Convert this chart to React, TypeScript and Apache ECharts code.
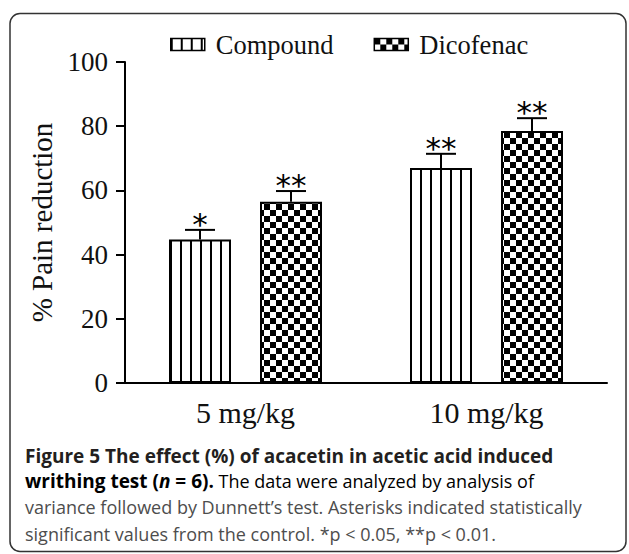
import React, { useEffect, useRef } from "react";
import * as echarts from "echarts";

// ---------- data ----------
const categories = ["5 mg/kg", "10 mg/kg"];
const seriesNames = ["Compound", "Dicofenac"];
const compoundValues = [44.7, 67.0];
const compoundErrors = [3.0, 4.4];
const compoundMarks = ["*", "**"];
const dicofenacValues = [56.5, 78.5];
const dicofenacErrors = [3.3, 4.0];
const dicofenacMarks = ["**", "**"];
const yTicks = [0, 20, 40, 60, 80, 100];
const yAxisTitle = "% Pain reduction";
const captionLine1 = "Figure 5 The effect (%) of acacetin in acetic acid induced";
const captionLine2Bold = "writhing test (";
const captionLine2Italic = "n";
const captionLine2Bold2 = " = 6).";
const captionLine2Rest = " The data were analyzed by analysis of";
const captionLine3 = "variance followed by Dunnett\u2019s test. Asterisks indicated statistically";
const captionLine4 = "significant values from the control. *p < 0.05, **p < 0.01.";

// ---------- layout constants ----------
const BAR_WIDTH = 62;
const BAR_GAP = 29;
const SERIF = "Liberation Serif";
const CAPTION_FONT = "Open Sans";
const BOLD_SIZE = 19;
const REG_SIZE = 18;
const BOLD_COLOR = "#231f20";
const REG_COLOR = "#4d4d4d";

function makeStripe(): HTMLCanvasElement {
  const c = document.createElement("canvas");
  c.width = 10;
  c.height = 10;
  const ctx = c.getContext("2d")!;
  ctx.fillStyle = "#ffffff";
  ctx.fillRect(0, 0, 10, 10);
  ctx.fillStyle = "#000000";
  ctx.fillRect(0, 0, 2, 10);
  return c;
}

function makeChecker(): HTMLCanvasElement {
  const c = document.createElement("canvas");
  c.width = 12;
  c.height = 12;
  const ctx = c.getContext("2d")!;
  ctx.fillStyle = "#ffffff";
  ctx.fillRect(0, 0, 12, 12);
  ctx.fillStyle = "#000000";
  ctx.fillRect(0, 0, 6, 6);
  ctx.fillRect(6, 6, 6, 6);
  return c;
}

function errorSeries(values: number[], errors: number[], marks: string[], offset: number) {
  return {
    type: "custom",
    silent: true,
    z: 10,
    data: values.map((v, i) => [i, v, errors[i]]),
    encode: { x: 0, y: 1 },
    renderItem: (params: any, api: any) => {
      const i = api.value(0);
      const v = api.value(1);
      const e = api.value(2);
      const base = api.coord([i, v]);
      const top = api.coord([i, v + e]);
      const x = base[0] + offset;
      return {
        type: "group",
        children: [
          {
            type: "line",
            shape: { x1: x, y1: base[1], x2: x, y2: top[1] },
            style: { stroke: "#000", lineWidth: 2 },
          },
          {
            type: "line",
            shape: { x1: x - 15, y1: top[1], x2: x + 15, y2: top[1] },
            style: { stroke: "#000", lineWidth: 2 },
          },
          {
            type: "text",
            x: x,
            y: top[1] - 6,
            style: {
              text: marks[params.dataIndex],
              fontFamily: "DejaVu Sans",
              fontSize: 31,
              fill: "#000",
              textAlign: "center",
              textVerticalAlign: "middle",
            },
          },
        ],
      };
    },
  };
}

export default function App() {
  const ref = useRef<HTMLDivElement>(null);

  useEffect(() => {
    document.body.style.margin = "0";
    if (!ref.current) return;
    const chart = echarts.init(ref.current, null, { renderer: "svg" });
    const stripe = makeStripe();
    const checker = makeChecker();
    const half = (BAR_WIDTH + BAR_GAP) / 2;

    const option: any = {
      animation: false,
      backgroundColor: "#ffffff",
      grid: { left: 125, top: 62, width: 482, height: 321, containLabel: false },
      legend: {
        left: 165,
        top: 26,
        itemWidth: 34,
        itemHeight: 12,
        itemGap: 40,
        icon: "rect",
        selectedMode: false,
        textStyle: { fontFamily: SERIF, fontSize: 26.5, color: "#111", padding: [0, 0, 0, 6] },
        data: [
          {
            name: seriesNames[0],
            itemStyle: {
              color: { image: stripe, repeat: "repeat", x: 173, y: 0, scaleX: 0.85 },
              borderColor: "#000",
              borderWidth: 1.5,
            },
          },
          {
            name: seriesNames[1],
            itemStyle: {
              color: { image: checker, repeat: "repeat", x: 367, y: 33 },
              borderColor: "#000",
              borderWidth: 1.5,
            },
          },
        ],
      },
      xAxis: {
        type: "category",
        data: categories,
        axisLine: { lineStyle: { color: "#000", width: 2 } },
        axisTick: { alignWithLabel: true, length: 8, lineStyle: { color: "#000", width: 2 } },
        axisLabel: { fontFamily: SERIF, fontSize: 30, color: "#111", margin: 14 },
      },
      yAxis: {
        type: "value",
        min: yTicks[0],
        max: yTicks[yTicks.length - 1],
        interval: yTicks[1] - yTicks[0],
        name: yAxisTitle,
        nameLocation: "middle",
        nameGap: 62,
        nameTextStyle: { fontFamily: SERIF, fontSize: 29, color: "#111" },
        axisLine: { show: true, lineStyle: { color: "#000", width: 2 } },
        axisTick: { show: true, length: 9, lineStyle: { color: "#000", width: 2 } },
        splitLine: { show: false },
        axisLabel: { fontFamily: SERIF, fontSize: 27, color: "#111", margin: 17 },
      },
      series: [
        {
          name: seriesNames[0],
          type: "bar",
          data: compoundValues,
          barWidth: BAR_WIDTH,
          barGap: (BAR_GAP / BAR_WIDTH) * 100 + "%",
          itemStyle: {
            color: { image: stripe, repeat: "repeat", x: 178, y: 0, scaleX: 0.964 },
            borderColor: "#000",
            borderWidth: 2,
          },
        },
        {
          name: seriesNames[1],
          type: "bar",
          data: dicofenacValues,
          barWidth: BAR_WIDTH,
          itemStyle: {
            color: { image: checker, repeat: "repeat", x: 261, y: 0 },
            borderColor: "#000",
            borderWidth: 2,
          },
        },
        errorSeries(compoundValues, compoundErrors, compoundMarks, -half),
        errorSeries(dicofenacValues, dicofenacErrors, dicofenacMarks, half),
      ],
      graphic: [
        {
          type: "rect",
          shape: { x: 10, y: 13.5, width: 616, height: 538, r: 10 },
          style: { fill: "none", stroke: "#333", lineWidth: 1.5 },
          silent: true,
        },
        {
          type: "text",
          left: 25,
          top: 446,
          style: {
            text: captionLine1,
            fontFamily: CAPTION_FONT,
            fontWeight: "bold",
            fontSize: BOLD_SIZE,
            fill: BOLD_COLOR,
          },
        },
        {
          type: "text",
          left: 25,
          top: 471,
          style: {
            text:
              "{b|" + captionLine2Bold + "}{bi|" + captionLine2Italic + "}{b|" + captionLine2Bold2 + "}{r|" + captionLine2Rest + "}",
            rich: {
              b: { fontFamily: CAPTION_FONT, fontWeight: "bold", fontSize: BOLD_SIZE, color: BOLD_COLOR },
              bi: { fontFamily: CAPTION_FONT, fontWeight: "bold", fontStyle: "italic", fontSize: BOLD_SIZE, color: BOLD_COLOR },
              r: { fontFamily: CAPTION_FONT, fontSize: REG_SIZE, color: REG_COLOR },
            },
          },
        },
        {
          type: "text",
          left: 25,
          top: 498,
          style: { text: captionLine3, fontFamily: CAPTION_FONT, fontSize: REG_SIZE, fill: REG_COLOR },
        },
        {
          type: "text",
          left: 25,
          top: 525,
          style: { text: captionLine4, fontFamily: CAPTION_FONT, fontSize: REG_SIZE, fill: REG_COLOR },
        },
      ],
    };
    chart.setOption(option);
    return () => chart.dispose();
  }, []);

  return <div ref={ref} style={{ width: 629, height: 554 }} />;
}
